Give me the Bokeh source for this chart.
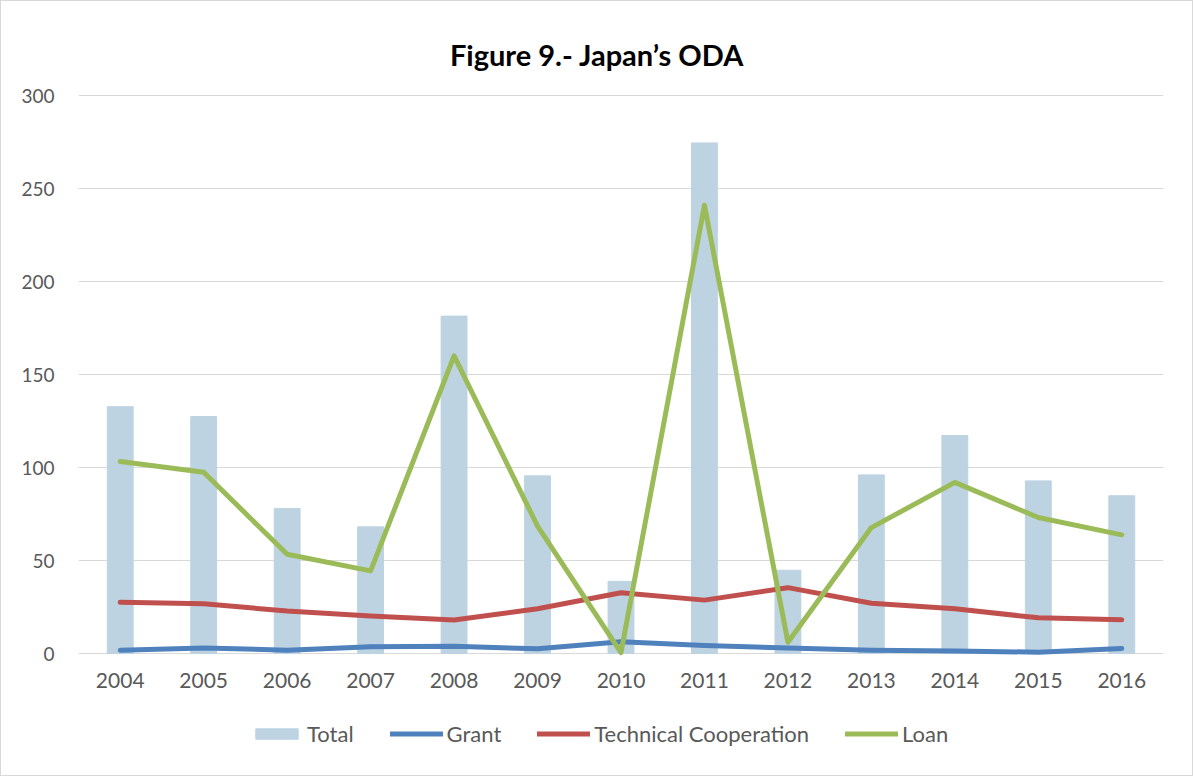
from bokeh.plotting import figure
from bokeh.models import (ColumnDataSource, Legend, LegendItem, FactorRange, FixedTicker,
                          Range1d, Label)
from bokeh.core.properties import value
from bokeh.embed import file_html
from bokeh.resources import INLINE

years = ["2004", "2005", "2006", "2007", "2008", "2009", "2010",
         "2011", "2012", "2013", "2014", "2015", "2016"]
total = [132.7, 127.4, 78.0, 68.1, 181.4, 95.5, 38.8, 274.5, 44.8, 96.0, 117.2, 92.8, 84.8]
grant = [1.8, 3.0, 1.8, 3.6, 3.9, 2.5, 6.3, 4.3, 3.0, 1.8, 1.4, 0.7, 2.7]
tech = [27.5, 26.8, 22.8, 20.1, 18.0, 24.1, 32.7, 28.7, 35.4, 27.0, 24.0, 19.2, 18.1]
loan = [103.2, 97.4, 53.4, 44.4, 160.0, 68.5, 0.5, 241.0, 6.0, 67.7, 92.0, 73.1, 63.8]
y_ticks = [0, 50, 100, 150, 200, 250, 300]
title_text = "Figure 9.- Japan\u2019s ODA"

src = ColumnDataSource(dict(year=years, total=total, grant=grant, tech=tech, loan=loan,
                            base=[0] * len(years)))

FONT = "Lato"
GRAY = "#595959"

# the frame spans the full height so title and legend can sit inside it
PX_PER_UNIT = 558 / 300
FRAME_H = 774
TOP_PAD = 94      # px between frame top and the 300 line
p = figure(x_range=FactorRange(*years),
           y_range=Range1d(300 - (FRAME_H - TOP_PAD) / PX_PER_UNIT, 300 + TOP_PAD / PX_PER_UNIT),
           frame_width=1085, frame_height=FRAME_H,
           output_backend="svg", toolbar_location=None, title=None)
p.min_border_left = 77
p.min_border_right = 29
p.min_border_top = 0
p.min_border_bottom = 0
p.background_fill_color = "white"
p.outline_line_color = None
p.styles = {"border": "1px solid #D9D9D9"}

r_total = p.vbar(x="year", top="total", width=0.31, source=src, color="#BDD3E2")
r_grant = p.line(x="year", y="grant", source=src, line_color="#4F81BD", line_width=5,
                 line_join="round", line_cap="round")
r_tech = p.line(x="year", y="tech", source=src, line_color="#C0504D", line_width=5,
                line_join="round", line_cap="round")
r_loan = p.line(x="year", y="loan", source=src, line_color="#9BBB59", line_width=5,
                line_join="round", line_cap="round")

# category labels under the zero line
p.text(x="year", y="base", text="year", source=src, y_offset=27,
       text_align="center", text_baseline="middle",
       text_font=value(FONT), text_font_size="21px", text_color=GRAY)

title = Label(x=518.5, y=721, x_units="screen", y_units="screen", text=title_text,
              text_align="center", text_baseline="alphabetic",
              text_font=FONT, text_font_style="bold", text_font_size="29px",
              text_color="#000000")
p.add_layout(title)

p.yaxis.ticker = FixedTicker(ticks=y_ticks)
p.yaxis.axis_line_color = None
p.yaxis.major_tick_line_color = None
p.yaxis.minor_tick_line_color = None
p.yaxis.major_label_text_font = FONT
p.yaxis.major_label_text_font_size = "19px"
p.yaxis.major_label_text_color = GRAY
p.yaxis.major_label_standoff = 18

p.xaxis.visible = False

p.xgrid.grid_line_color = None
p.ygrid.grid_line_color = "#D9D9D9"
p.ygrid.grid_line_width = 1

legend = Legend(items=[
    LegendItem(label="Total", renderers=[r_total]),
    LegendItem(label="Grant", renderers=[r_grant]),
    LegendItem(label="Technical Cooperation", renderers=[r_tech]),
    LegendItem(label="Loan", renderers=[r_loan]),
], orientation="horizontal", location=(172, 28))
legend.label_text_font = FONT
legend.label_text_font_size = "22px"
legend.label_text_color = GRAY
legend.border_line_color = None
legend.background_fill_alpha = 0
legend.glyph_width = 53
legend.glyph_height = 13
legend.spacing = 36
legend.label_standoff = 4
legend.margin = 0
legend.padding = 0
p.add_layout(legend, "center")

open("out.html", "w").write(file_html(p, INLINE))
